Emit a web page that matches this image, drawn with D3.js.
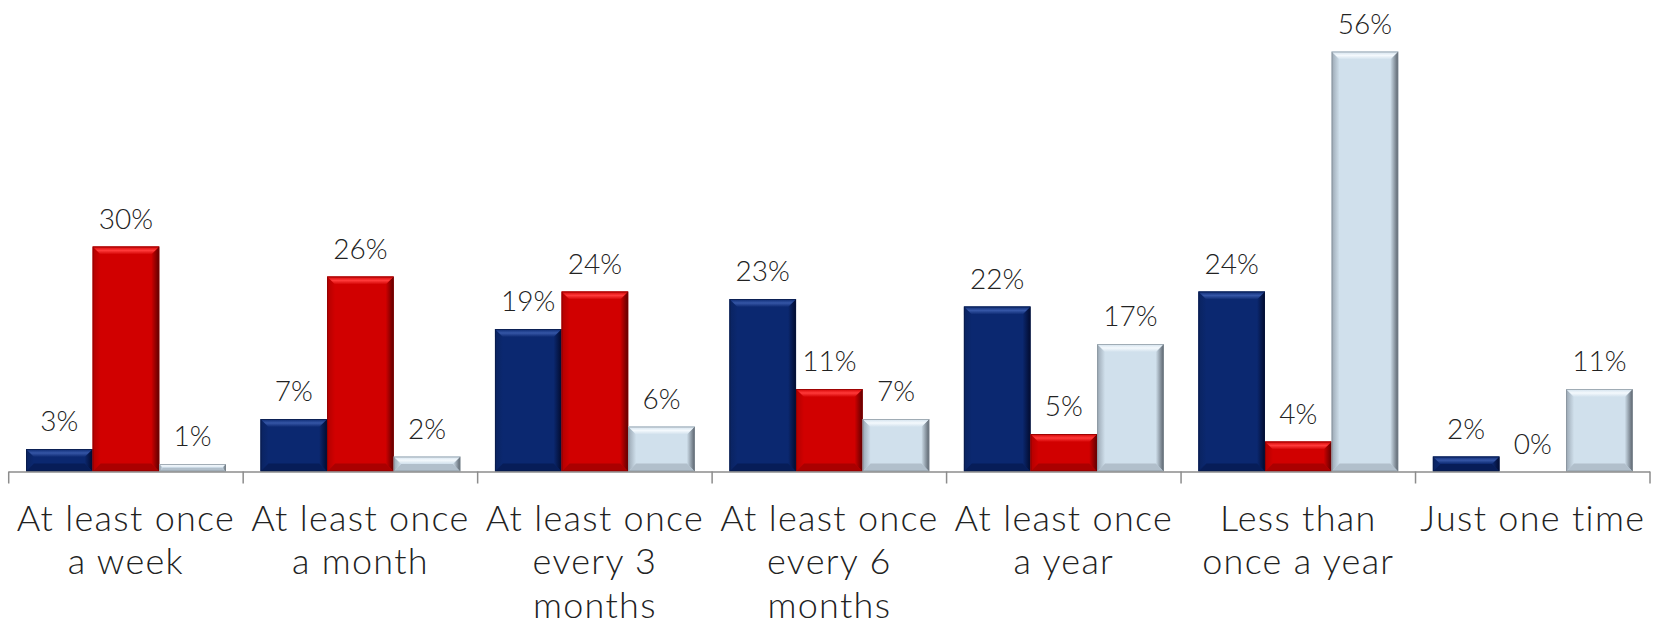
<!DOCTYPE html>
<html>
<head>
<meta charset="utf-8">
<script src="https://cdn.jsdelivr.net/npm/d3@7"></script>
<style>
  html, body { margin: 0; padding: 0; background: #fff; }
  svg { display: block; }
  text { font-family: "Lato", "Open Sans", "DejaVu Sans", sans-serif; font-weight: 300; fill: #222; }
</style>
</head>
<body>
<svg id="chart" width="1656" height="621"></svg>
<script>
// ---- Data ----
const categories = [
  "At least once a week",
  "At least once a month",
  "At least once every 3 months",
  "At least once every 6 months",
  "At least once a year",
  "Less than once a year",
  "Just one time"
];
const categoryLines = [
  ["At least once", "a week"],
  ["At least once", "a month"],
  ["At least once", "every 3", "months"],
  ["At least once", "every 6", "months"],
  ["At least once", "a year"],
  ["Less than", "once a year"],
  ["Just one time"]
];
const seriesNames = ["Series A", "Series B", "Series C"];
const seriesA = [3, 7, 19, 23, 22, 24, 2];
const seriesB = [30, 26, 24, 11, 5, 4, 0];
const seriesC = [1, 2, 6, 7, 17, 56, 11];
const seriesValues = [seriesA, seriesB, seriesC];

// ---- Layout ----
const svg = d3.select("#chart");
const x0 = d3.scaleBand().domain(categories).range([8.7, 1650]).paddingInner(0).paddingOuter(0);
const x1 = d3.scaleBand().domain(seriesNames).range([0, x0.bandwidth()]).paddingInner(0).paddingOuter(0.26);
const y = d3.scaleLinear().domain([0, 56]).range([471.5, 51.5]);

const palettes = {
  "Series A": { base: "#0b2870", top: "#3556a6", left: "#0a2360", right: "#020b2e", bottom: "#061a52", stroke: "#08183f" },
  "Series B": { base: "#d10000", top: "#ff3a3a", left: "#b20000", right: "#5e0000", bottom: "#a00000", stroke: "#7a0000" },
  "Series C": { base: "#d0e0ec", top: "#f4f9fd", left: "#9aa7b3", right: "#58616b", bottom: "#a9b7c3", stroke: "#7d8790" }
};

const defs = svg.append("defs");
seriesNames.forEach((s, i) => {
  const p = palettes[s];
  const gl = defs.append("linearGradient").attr("id", "gl" + i).attr("x1", "0").attr("x2", "1").attr("y1", "0").attr("y2", "0");
  gl.append("stop").attr("offset", "0").attr("stop-color", p.left);
  gl.append("stop").attr("offset", "1").attr("stop-color", p.base);
  const gr = defs.append("linearGradient").attr("id", "gr" + i).attr("x1", "0").attr("x2", "1").attr("y1", "0").attr("y2", "0");
  gr.append("stop").attr("offset", "0").attr("stop-color", p.base);
  gr.append("stop").attr("offset", "1").attr("stop-color", p.right);
  const gt = defs.append("linearGradient").attr("id", "gt" + i).attr("x1", "0").attr("x2", "0").attr("y1", "0").attr("y2", "1");
  gt.append("stop").attr("offset", "0").attr("stop-color", p.base);
  gt.append("stop").attr("offset", "0.5").attr("stop-color", p.top);
  gt.append("stop").attr("offset", "1").attr("stop-color", p.base);
});

// ---- Bars ----
const barData = [];
categories.forEach((c, ci) => {
  seriesNames.forEach((s, si) => {
    barData.push({ cat: c, series: s, si: si, value: seriesValues[si][ci] });
  });
});

const bars = svg.append("g").selectAll("g.bar").data(barData).join("g").attr("class", "bar");

bars.each(function(d) {
  const g = d3.select(this);
  const p = palettes[d.series];
  const bx = x0(d.cat) + x1(d.series);
  const bw = x1.bandwidth();
  const by = y(d.value);
  const bh = y(0) - y(d.value);
  if (bh <= 0) return;
  g.append("rect").attr("x", bx).attr("y", by).attr("width", bw).attr("height", bh).attr("fill", p.base);
  const b = Math.min(8, bh / 2, bw / 2);
  const x2 = bx + bw, y2 = by + bh;
  g.append("polygon").attr("points", [[bx, by], [bx + b, by + b], [bx + b, y2 - b], [bx, y2]].join(" ")).attr("fill", `url(#gl${d.si})`);
  g.append("polygon").attr("points", [[x2, by], [x2 - b, by + b], [x2 - b, y2 - b], [x2, y2]].join(" ")).attr("fill", `url(#gr${d.si})`);
  g.append("polygon").attr("points", [[bx, by], [x2, by], [x2 - b, by + b], [bx + b, by + b]].join(" ")).attr("fill", `url(#gt${d.si})`);
  g.append("polygon").attr("points", [[bx, y2], [x2, y2], [x2 - b, y2 - b], [bx + b, y2 - b]].join(" ")).attr("fill", p.bottom).attr("opacity", 0.8);
  g.append("rect").attr("x", bx + 0.5).attr("y", by + 0.5).attr("width", bw - 1).attr("height", Math.max(0, bh - 1))
    .attr("fill", "none").attr("stroke", p.stroke).attr("stroke-width", 1).attr("opacity", 0.6);
});

// ---- Value labels ----
svg.append("g").selectAll("text").data(barData).join("text")
  .attr("x", d => x0(d.cat) + x1(d.series) + x1.bandwidth() / 2)
  .attr("y", d => y(d.value) - 18)
  .attr("text-anchor", "middle")
  .attr("font-size", 28)
  .text(d => d.value + "%");

// ---- Axis ----
const axisG = svg.append("g");
axisG.append("line").attr("x1", x0.range()[0]).attr("x2", x0.range()[1]).attr("y1", y(0) + 0.5).attr("y2", y(0) + 0.5)
  .attr("stroke", "#8c8c8c").attr("stroke-width", 1.5);
const boundaries = categories.map(c => x0(c)).concat([x0.range()[1]]);
axisG.selectAll("line.tick").data(boundaries).join("line").attr("class", "tick")
  .attr("x1", d => d).attr("x2", d => d).attr("y1", y(0)).attr("y2", y(0) + 12)
  .attr("stroke", "#8c8c8c").attr("stroke-width", 1.5);

// ---- Category labels ----
const catG = svg.append("g").selectAll("text").data(categories).join("text")
  .attr("text-anchor", "middle")
  .attr("font-size", 36)
  .attr("letter-spacing", 1.3)
  .attr("x", d => x0(d) + x0.bandwidth() / 2)
  .attr("y", 531);
catG.each(function(d, i) {
  const t = d3.select(this);
  categoryLines[i].forEach((line, li) => {
    t.append("tspan").attr("x", x0(d) + x0.bandwidth() / 2).attr("y", 531 + li * 43.3).text(line);
  });
});
</script>
</body>
</html>
